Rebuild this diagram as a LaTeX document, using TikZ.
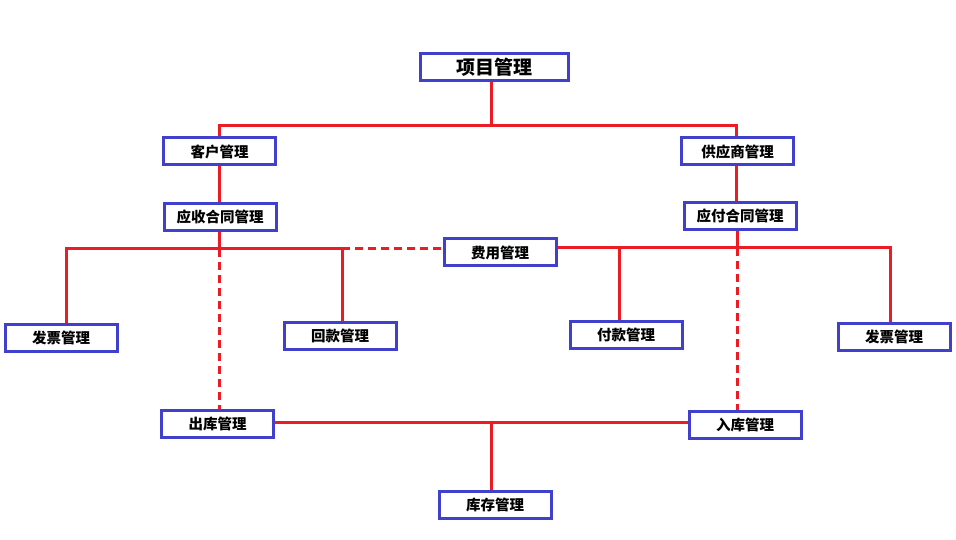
\documentclass[tikz,border=0pt]{standalone}
\usepackage{fontspec}
\newfontfamily\cjk{Noto Sans CJK SC}
\usepackage{tikz}
\usetikzlibrary{positioning}

\definecolor{boxblue}{RGB}{64,64,204}
\definecolor{linered}{RGB}{236,28,36}

\tikzset{
  box/.style={draw=boxblue,line width=3pt,fill=white,minimum width=112pt,minimum height=27pt,inner sep=0pt,font=\cjk\bfseries\fontsize{14.5pt}{16pt}\selectfont},
  link/.style={draw=linered,line width=3pt},
  dlink/.style={link,dash pattern=on 8pt off 5pt}
}

\begin{document}
\begin{tikzpicture}[x=1pt,y=-1pt]
  \useasboundingbox (0,0) rectangle (956,540);
  % nodes
  \node[box,minimum width=148pt,font=\cjk\bfseries\fontsize{19pt}{22pt}\selectfont] (proj) at (494,67) {项目管理};
  \node[box] (cust) at (219.5,151.5) {客户管理};
  \node[box] (supp) at (737.5,151.5) {供应商管理};
  \node[box] (recv) at (220,217) {应收合同管理};
  \node[box] (payc) at (740,216) {应付合同管理};
  \node[box] (cost) at (500,252.5) {费用管理};
  \node[box] (invl) at (61,337.5) {发票管理};
  \node[box] (back) at (340,335.5) {回款管理};
  \node[box] (paym) at (626,335) {付款管理};
  \node[box] (invr) at (894,336.5) {发票管理};
  \node[box] (outs) at (217.5,423.5) {出库管理};
  \node[box] (ins) at (745,424.5) {入库管理};
  \node[box] (stock) at (495,504.5) {库存管理};
  % junctions
  \coordinate (top) at (491,126);
  \coordinate (lj) at (219,249);
  \coordinate (rj) at (737,248);
  \coordinate (bj) at (491,422);
  % connectors
  \draw[link] (proj.south -| top) -- (top);
  \draw[link] (cust.north -| 219,0) |- (top) -| (supp.north -| 736,0);
  \draw[link] (cust.south -| 219,0) -- (recv.north -| 219,0);
  \draw[link] (supp.south -| 736,0) -- (payc.north -| 736,0);
  \draw[link] (recv.south -| lj) -- (lj);
  \draw[link] (invl.north -| 66,0) |- (lj) -- (342,249) -- (back.north -| 342,0);
  \draw[dlink] (342,249) -- (cost.west |- lj);
  \draw[dlink] (lj) -- (outs.north -| lj);
  \draw[link] (payc.south -| rj) -- (rj);
  \draw[link] (cost.east |- rj) -| (invr.north -| 890,0);
  \draw[link] (619,248) -- (paym.north -| 619,0);
  \draw[dlink] (rj) -- (ins.north -| rj);
  \draw[link] (outs.east |- bj) -- (ins.west |- bj);
  \draw[link] (bj) -- (stock.north -| bj);
\end{tikzpicture}
\end{document}
